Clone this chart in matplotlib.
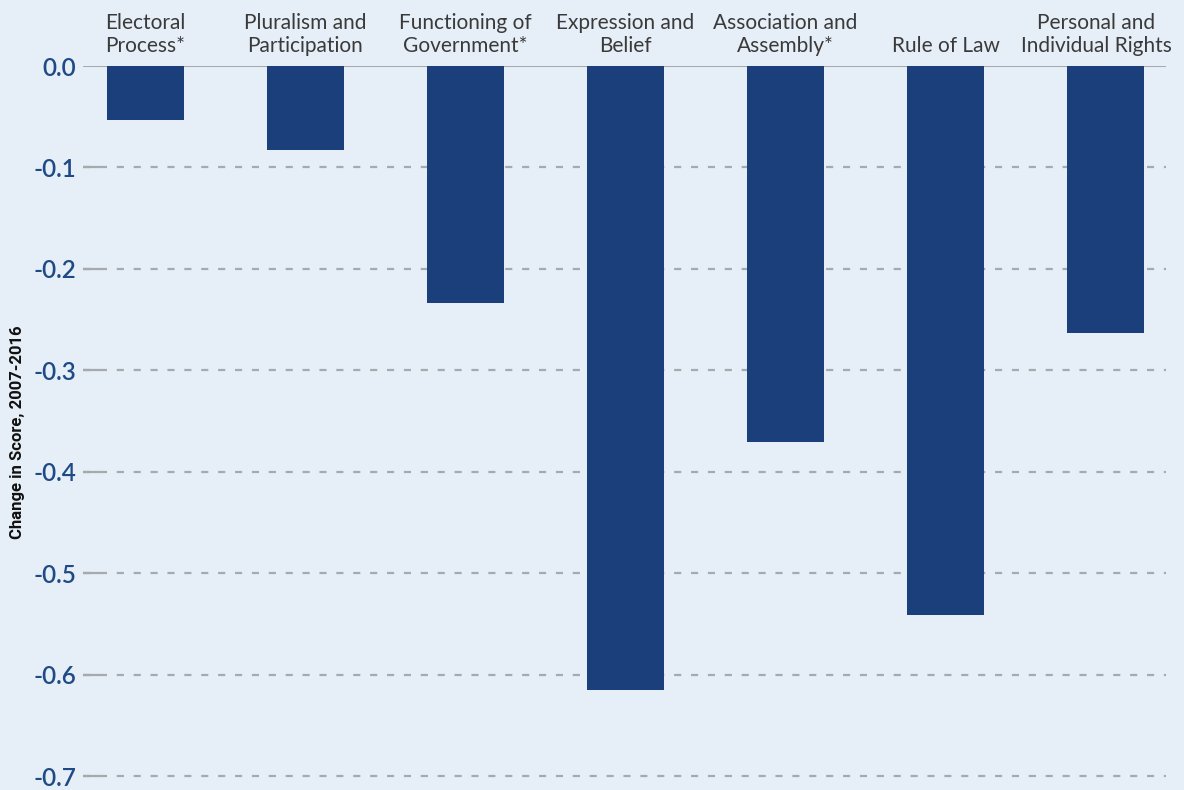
import matplotlib
matplotlib.use("Agg")
import matplotlib.pyplot as plt
from matplotlib.transforms import ScaledTranslation

categories = ["Electoral\nProcess*", "Pluralism and\nParticipation", "Functioning of\nGovernment*",
              "Expression and\nBelief", "Association and\nAssembly*", "Rule of Law",
              "Personal and\nIndividual Rights"]
score_change = [-0.053, -0.083, -0.234, -0.615, -0.371, -0.541, -0.263]
y_ticks = [0.0, -0.1, -0.2, -0.3, -0.4, -0.5, -0.6, -0.7]

BG = "#E6EEF7"
BAR = "#1B3F7A"
TICK = "#1E4A86"
GRID = "#A6A9AD"

fig = plt.figure(figsize=(11.84, 7.9), dpi=100, facecolor=BG)
ax = fig.add_axes([83 / 1184, 1 - 776 / 790, (1166 - 83) / 1184, (776 - 66) / 790])
ax.set_facecolor(BG)

xs = list(range(len(categories)))
ax.bar(xs, score_change, width=0.48, color=BAR, zorder=3)

x0 = -0.39
for t in y_ticks:
    if t == 0:
        ax.axhline(t, color=GRID, lw=1.5, zorder=2)
    else:
        ax.axhline(t, color=GRID, lw=1.6, ls=(0, (3.2, 4.4)), zorder=1, clip_on=False)
        # longer leading dash next to the tick label
        ax.plot([x0, x0 + 17 / 160], [t, t], color=GRID, lw=1.6, zorder=1,
                solid_capstyle="butt", clip_on=False)

ax.set_xlim(x0, 6.378)
ax.set_ylim(-0.7, 0)
ax.set_yticks(y_ticks)
ax.set_yticklabels([f"{t:.1f}" for t in y_ticks])
ax.tick_params(axis="y", length=0, pad=5, labelsize=17.5, labelcolor=TICK)
for lab in ax.get_yticklabels():
    lab.set_fontfamily("Lato")
    lab.set_fontweight("semibold")

ax.xaxis.tick_top()
ax.set_xticks(xs)
ax.set_xticklabels(categories, fontsize=15, color="#3A3A3A", family="Lato",
                   fontweight="normal", linespacing=1.2)
ax.tick_params(axis="x", length=0, pad=7)
# last label is nudged left to stay inside the frame
last = ax.get_xticklabels()[-1]
last.set_transform(last.get_transform() + ScaledTranslation(-0.09, 0, fig.dpi_scale_trans))

for s in ax.spines.values():
    s.set_visible(False)

fig.text(18 / 1184, 1 - 432 / 790, "Change in Score, 2007-2016", rotation=90,
         ha="center", va="center", fontsize=12, fontweight="bold", family="Roboto",
         color="#111111")

fig.savefig("out.png", facecolor=BG)
